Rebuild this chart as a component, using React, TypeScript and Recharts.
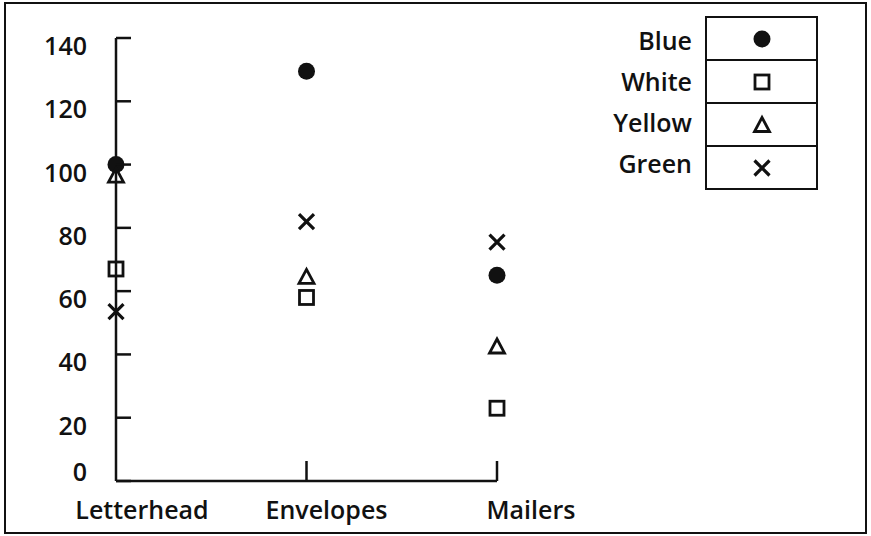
import { ComposedChart, Scatter, XAxis, YAxis, Legend } from 'recharts';

// values
const categories = ['Letterhead', 'Envelopes', 'Mailers'];
const blue = [100, 129.5, 65];
const white = [67, 58, 23];
const yellow = [96.5, 64.5, 42.5];
const green = [53.5, 82, 75.5];
const yTicks = [0, 20, 40, 60, 80, 100, 120, 140];

const series = [
  { key: 'blue', name: 'Blue', kind: 'dot' },
  { key: 'white', name: 'White', kind: 'square' },
  { key: 'yellow', name: 'Yellow', kind: 'triangle' },
  { key: 'green', name: 'Green', kind: 'x' },
];

const data = categories.map((category, i) => ({
  category,
  blue: blue[i],
  white: white[i],
  yellow: yellow[i],
  green: green[i],
}));

const font = '"Open Sans", sans-serif';
const ink = '#111';

const Marker = ({ kind, cx, cy }: { kind: string; cx: number; cy: number }) => {
  if (kind === 'dot') return <circle cx={cx} cy={cy} r={8.5} fill={ink} />;
  if (kind === 'square')
    return <rect x={cx - 7} y={cy - 7} width={14} height={14} fill="none" stroke={ink} strokeWidth={2.8} />;
  if (kind === 'triangle')
    return (
      <path
        d={`M${cx},${cy - 7.5} L${cx + 7.5},${cy + 6.5} L${cx - 7.5},${cy + 6.5} Z`}
        fill="none"
        stroke={ink}
        strokeWidth={2.8}
      />
    );
  return (
    <path
      d={`M${cx - 7.5},${cy - 7.5} L${cx + 7.5},${cy + 7.5} M${cx + 7.5},${cy - 7.5} L${cx - 7.5},${cy + 7.5}`}
      stroke={ink}
      strokeWidth={3.2}
    />
  );
};

// y ticks point into the plot, labels sit to the left (the 0 sits above the base line)
const YTick = ({ x, y, payload }: any) => (
  <g>
    <line x1={x} x2={x + 15} y1={y} y2={y} stroke={ink} strokeWidth={2.5} />
    <text x={x - 29} y={y + (payload.value === 0 ? -10 : 7)} textAnchor="end" dominantBaseline="central" fill={ink}
      style={{ fontFamily: font, fontSize: 25, fontWeight: 600 }}>
      {payload.value}
    </text>
  </g>
);

const labelShift = [26, 20, 34];
const XTick = ({ x, y, payload, index }: any) => (
  <g>
    {index > 0 && <line x1={x} x2={x} y1={y} y2={y - 20} stroke={ink} strokeWidth={2.5} />}
    <text x={x + labelShift[index]} y={y + 38} textAnchor="middle" fill={ink}
      style={{ fontFamily: font, fontSize: 25, fontWeight: 600 }}>
      {payload.value}
    </text>
  </g>
);

const LegendBox = () => (
  <div style={{ display: 'flex', fontFamily: font, fontSize: 25, fontWeight: 600, color: ink }}>
    <div style={{ width: 120, textAlign: 'right', paddingRight: 13, paddingTop: 4 }}>
      {series.map((s) => (
        <div key={s.key} style={{ height: 41, lineHeight: '41px' }}>{s.name}</div>
      ))}
    </div>
    <div style={{ width: 113, border: `2px solid ${ink}`, boxSizing: 'border-box' }}>
      {series.map((s, i) => (
        <div key={s.key} style={{
          height: 41, borderTop: i ? `2px solid ${ink}` : 'none',
          display: 'flex', alignItems: 'center', justifyContent: 'center',
        }}>
          <svg width={22} height={22}><Marker kind={s.kind} cx={11} cy={11} /></svg>
        </div>
      ))}
    </div>
  </div>
);

export default function App() {
  return (
    <div style={{ position: 'absolute', left: 0, top: 0, width: 871, height: 536, background: '#fff' }}>
      <ComposedChart width={871} height={536} data={data} margin={{ top: 38, right: 374, bottom: 0, left: 0 }}>
        <XAxis dataKey="category" scale="point" padding={{ left: 0, right: 0 }} height={55}
          axisLine={{ stroke: ink, strokeWidth: 2.5 }} tickLine={false} tickSize={0} tickMargin={0}
          tick={<XTick />} interval={0} />
        <YAxis type="number" domain={[0, 140]} ticks={yTicks} width={116}
          axisLine={{ stroke: ink, strokeWidth: 2.5 }} tickLine={false} tickSize={0} tickMargin={0}
          tick={<YTick />} />
        <Legend layout="vertical" align="center" verticalAlign="middle"
          wrapperStyle={{ left: 572, top: 16, width: 'auto' }} content={<LegendBox />} />
        {series.map((s) => (
          <Scatter key={s.key} dataKey={s.key} name={s.name} isAnimationActive={false}
            shape={(p: any) => <Marker kind={s.kind} cx={p.cx} cy={p.cy} />} />
        ))}
      </ComposedChart>
      <div style={{
        position: 'absolute', left: 4, top: 2, width: 863, height: 532,
        border: `2px solid ${ink}`, boxSizing: 'border-box', pointerEvents: 'none',
      }} />
    </div>
  );
}
